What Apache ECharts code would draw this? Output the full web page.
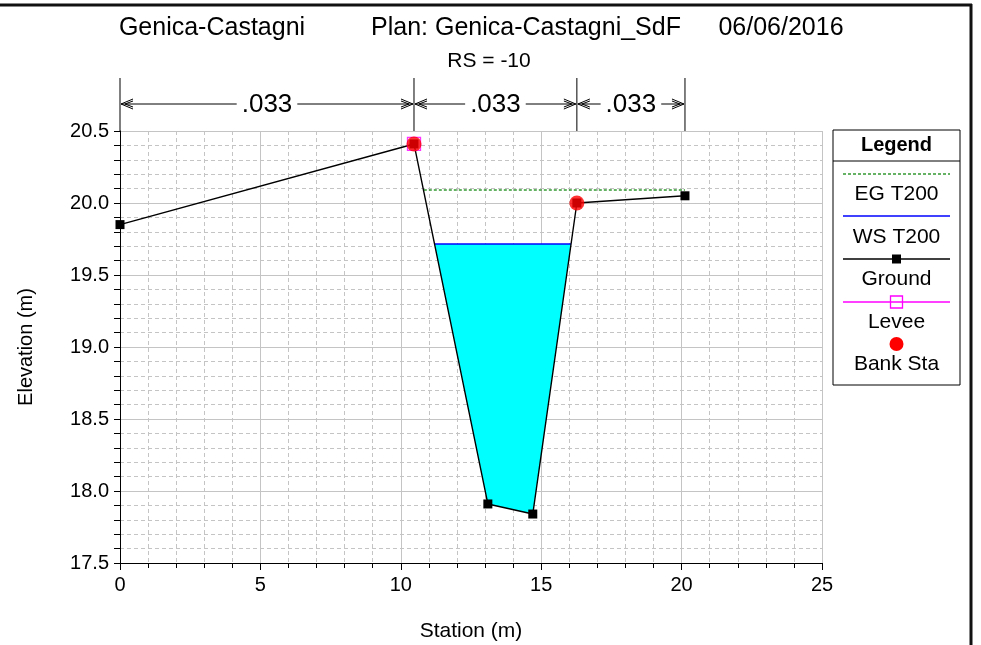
<!DOCTYPE html>
<html><head><meta charset="utf-8">
<script src="https://cdn.jsdelivr.net/npm/echarts@6/dist/echarts.min.js"></script>
<style>html,body{margin:0;padding:0;background:#fff}#c{width:981px;height:645px}</style>
</head><body><div id="c"></div>
<script>
// ---- data ----
const groundStation = [0, 10.47, 13.1, 14.7, 16.27, 20.12];
const groundElev = [19.85, 20.41, 17.91, 17.84, 20.0, 20.05];
const wsStation = [11.2, 16.06];
const wsElev = 19.715;
const egStation = [10.82, 20.12];
const egElev = 20.09;
const leveePts = [[10.47, 20.41]];
const bankPts = [[10.47, 20.41], [16.27, 20.0]];
const waterPoly = [[11.2, 19.715], [13.1, 17.91], [14.7, 17.84], [16.06, 19.715]];
const nBreaks = [0, 10.47, 16.27, 20.12];
const nValues = ['.033', '.033', '.033'];
const xRange = [0, 25];
const yRange = [17.5, 20.5];

const FONT = 'Liberation Sans, Arial, sans-serif';
const chart = echarts.init(document.getElementById('c'), null, {renderer: 'canvas'});

const groundData = groundStation.map((s, i) => [s, groundElev[i]]);
const wsData = wsStation.map(s => [s, wsElev]);
const egData = egStation.map(s => [s, egElev]);
const nSegs = nValues.map((v, i) => [nBreaks[i], nBreaks[i + 1], v]);

function legendItems() {
  const L = 833, R = 960, C = (L + R) / 2, lx1 = 843, lx2 = 950;
  const t = (txt, y, bold) => ({type: 'text', x: C, y: y, style: {text: txt, fill: '#000', font: (bold ? 'bold 20px ' : '21px ') + FONT, align: 'center', verticalAlign: 'middle'}});
  const ln = (y, color, dash) => ({type: 'line', shape: {x1: lx1, y1: y, x2: lx2, y2: y}, style: {stroke: color, lineWidth: 1.5, lineDash: dash || null}});
  return [
    {type: 'rect', shape: {x: L, y: 130, width: R - L, height: 255}, style: {fill: '#fff', stroke: '#000', lineWidth: 1}},
    {type: 'line', shape: {x1: L, y1: 161, x2: R, y2: 161}, style: {stroke: '#000', lineWidth: 1}},
    t('Legend', 145, true),
    ln(174, '#339933', [3, 2]), t('EG T200', 194),
    ln(216, '#0000ff'), t('WS T200', 237),
    ln(259, '#000'), {type: 'rect', shape: {x: C - 4.5, y: 259 - 4.5, width: 9, height: 9}, style: {fill: '#000'}}, t('Ground', 279),
    ln(302, '#ff00ff'), {type: 'rect', shape: {x: C - 6, y: 302 - 6, width: 12, height: 12}, style: {fill: 'none', stroke: '#ff00ff', lineWidth: 1.3}}, t('Levee', 322),
    {type: 'circle', shape: {cx: C, cy: 344, r: 7}, style: {fill: '#ff0000'}}, t('Bank Sta', 364)
  ];
}

const option = {
  animation: false,
  backgroundColor: '#fff',
  grid: {left: 120, right: 159, top: 131, bottom: 82, containLabel: false, outerBoundsMode: 'none'},
  xAxis: {
    type: 'value', min: xRange[0], max: xRange[1], interval: 5,
    name: 'Station (m)', nameLocation: 'middle', nameGap: 58,
    nameTextStyle: {fontFamily: FONT, fontSize: 21, color: '#000'},
    axisLine: {show: true, onZero: false, lineStyle: {color: '#000', width: 1}},
    axisTick: {show: true, length: 7, lineStyle: {color: '#000'}},
    minorTick: {show: true, splitNumber: 5, length: 5, lineStyle: {color: '#000'}},
    axisLabel: {fontFamily: FONT, fontSize: 20, color: '#000', margin: 12},
    splitLine: {show: true, lineStyle: {color: '#c4c4c4', width: 1}},
    minorSplitLine: {show: true, lineStyle: {color: '#c4c4c4', width: 1, type: [4, 3]}}
  },
  yAxis: {
    type: 'value', min: yRange[0], max: yRange[1], interval: 0.5,
    name: 'Elevation (m)', nameLocation: 'middle', nameGap: 84, nameRotate: 90,
    nameTextStyle: {fontFamily: FONT, fontSize: 20, color: '#000'},
    axisLine: {show: true, onZero: false, lineStyle: {color: '#000', width: 1}},
    axisTick: {show: true, length: 6, lineStyle: {color: '#000'}},
    minorTick: {show: true, splitNumber: 5, length: 6, lineStyle: {color: '#000'}},
    axisLabel: {fontFamily: FONT, fontSize: 20, color: '#000', margin: 11, formatter: v => v.toFixed(1)},
    splitLine: {show: true, lineStyle: {color: '#c4c4c4', width: 1}},
    minorSplitLine: {show: true, lineStyle: {color: '#c4c4c4', width: 1, type: [4, 3]}}
  },
  graphic: [
    {type: 'line', shape: {x1: 0, y1: 5, x2: 972, y2: 5}, style: {stroke: '#111', lineWidth: 3}},
    {type: 'line', shape: {x1: 971, y1: 4, x2: 971, y2: 645}, style: {stroke: '#111', lineWidth: 3}},
    {type: 'text', x: 212, y: 28, style: {text: 'Genica-Castagni', font: '25px ' + FONT, fill: '#000', align: 'center', verticalAlign: 'middle'}},
    {type: 'text', x: 526, y: 28, style: {text: 'Plan: Genica-Castagni_SdF', font: '25px ' + FONT, fill: '#000', align: 'center', verticalAlign: 'middle'}},
    {type: 'text', x: 781, y: 28, style: {text: '06/06/2016', font: '25px ' + FONT, fill: '#000', align: 'center', verticalAlign: 'middle'}},
    {type: 'text', x: 489, y: 61, style: {text: 'RS = -10', font: '21px ' + FONT, fill: '#000', align: 'center', verticalAlign: 'middle'}}
  ].concat(legendItems()),
  series: [
    {
      type: 'custom', name: 'water', z: 1, clip: true,
      data: waterPoly,
      renderItem: (params, api) => {
        if (params.dataIndex !== 0) return null;
        return {type: 'polygon', shape: {points: waterPoly.map(p => api.coord(p))}, style: {fill: '#00ffff', stroke: 'none'}};
      }
    },
    {type: 'line', name: 'WS T200', z: 3, data: wsData, symbol: 'none', lineStyle: {color: '#0000ff', width: 1.5}},
    {type: 'line', name: 'EG T200', z: 3, data: egData, symbol: 'none', lineStyle: {color: '#339933', width: 1.5, type: [3, 2]}},
    {type: 'line', name: 'Ground', z: 4, data: groundData, symbol: 'rect', symbolSize: 9,
      itemStyle: {color: '#000'}, lineStyle: {color: '#000', width: 1.4}},
    {type: 'scatter', name: 'Levee', z: 5, data: leveePts, symbol: 'rect', symbolSize: 13,
      itemStyle: {color: 'rgba(0,0,0,0)', borderColor: '#ff00ff', borderWidth: 1.3}},
    {type: 'scatter', name: 'Bank Sta', z: 6, data: bankPts, symbol: 'circle', symbolSize: 15,
      itemStyle: {color: '#ff0000'}},
    {
      type: 'custom', name: 'breaks', z: 6, clip: false,
      data: nBreaks.map(b => [b, yRange[1]]),
      renderItem: (params, api) => {
        const p = api.coord([api.value(0), yRange[1]]);
        return {type: 'line', shape: {x1: p[0], y1: p[1] - 53, x2: p[0], y2: p[1]}, style: {stroke: '#000', lineWidth: 1}};
      }
    },
    {
      type: 'custom', name: 'nvalues', z: 6, clip: false,
      data: nSegs, encode: {x: [0, 1]},
      renderItem: (params, api) => {
        const a = api.coord([api.value(0), yRange[1]]);
        const b = api.coord([api.value(1), yRange[1]]);
        const y = a[1] - 27, x0 = a[0] + 1, x1 = b[0] - 1, mid = (x0 + x1) / 2;
        const txt = nSegs[params.dataIndex][2];
        const st = {stroke: '#000', fill: 'none', lineWidth: 1};
        return {type: 'group', children: [
          {type: 'line', shape: {x1: x0, y1: y, x2: x1, y2: y}, style: {stroke: '#000', lineWidth: 1}},
          {type: 'polyline', shape: {points: [[x0 + 12, y - 5], [x0, y], [x0 + 12, y + 5]]}, style: st},
          {type: 'polyline', shape: {points: [[x0 + 12, y - 3], [x0 + 4, y], [x0 + 12, y + 3]]}, style: st},
          {type: 'polyline', shape: {points: [[x1 - 12, y - 5], [x1, y], [x1 - 12, y + 5]]}, style: st},
          {type: 'polyline', shape: {points: [[x1 - 12, y - 3], [x1 - 4, y], [x1 - 12, y + 3]]}, style: st},
          {type: 'text', x: mid, y: y + 1, style: {text: txt, font: '26px ' + FONT, fill: '#000', align: 'center', verticalAlign: 'middle', backgroundColor: '#fff', padding: [0, 5]}}
        ]};
      }
    }
  ]
};
chart.setOption(option);
</script></body></html>
